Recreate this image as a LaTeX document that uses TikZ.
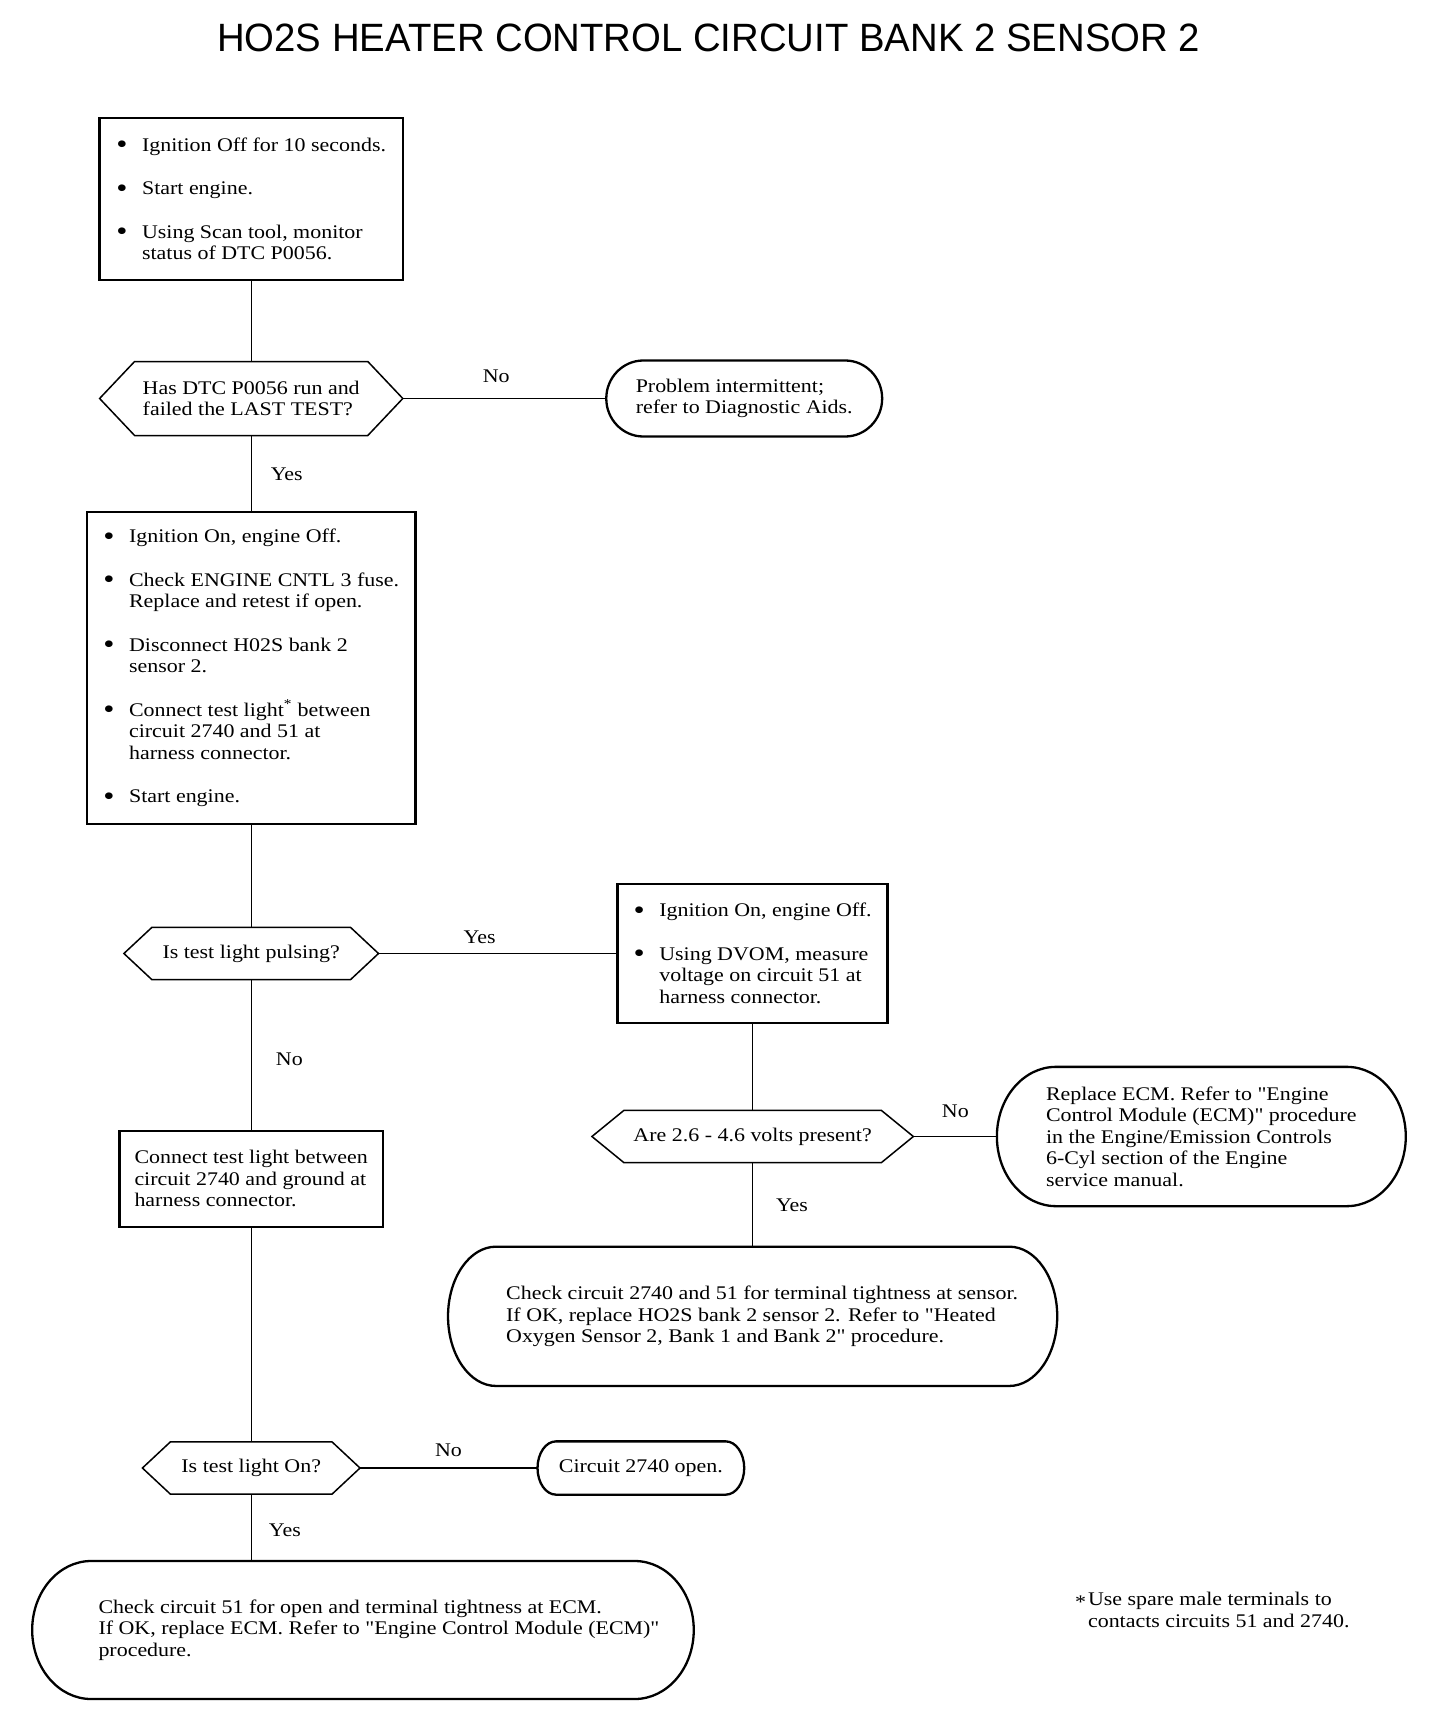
\documentclass[tikz,border=0pt]{standalone}
\usepackage{fontspec}
\newfontfamily\bodyfont{Liberation Serif}[FakeStretch=1.137]
\newfontfamily\titlefont{Liberation Sans}[FakeStretch=0.97]
\usetikzlibrary{calc}
\newcommand\bl[1]{\makebox[25.7pt][l]{\raisebox{-2.5pt}{\scalebox{1.45}{\textbullet}}}#1}
\newcommand\ind{\hspace*{25.7pt}}
\newcommand\hexa[2]{\draw[hexline] (#1.west) -- ([xshift=#2pt]#1.north west) -- ([xshift=-#2pt]#1.north east) -- (#1.east) -- ([xshift=-#2pt]#1.south east) -- ([xshift=#2pt]#1.south west) -- cycle;}
\newcommand\ovalb[2]{%
 \draw[ovalline]
 ([xshift=#2pt]#1.north west) -- ([xshift=-#2pt]#1.north east)
 .. controls ([xshift=-0.448*#2pt]#1.north east) and ($(#1.east)!0.552!(#1.north east)$) .. (#1.east)
 .. controls ($(#1.east)!0.552!(#1.south east)$) and ([xshift=-0.448*#2pt]#1.south east) .. ([xshift=-#2pt]#1.south east)
 -- ([xshift=#2pt]#1.south west)
 .. controls ([xshift=0.448*#2pt]#1.south west) and ($(#1.west)!0.552!(#1.south west)$) .. (#1.west)
 .. controls ($(#1.west)!0.552!(#1.north west)$) and ([xshift=0.448*#2pt]#1.north west) .. ([xshift=#2pt]#1.north west) -- cycle;}
\tikzset{
 every node/.style={font=\bodyfont\fontsize{19.3}{21.5}\selectfont, inner sep=0pt, outer sep=0pt},
 rectbox/.style={draw, line width=2.3pt, align=left},
 hexnode/.style={align=left},
 ovalnode/.style={align=left},
 hexline/.style={line width=1.5pt, line join=miter},
 ovalline/.style={line width=2.3pt},
 conn/.style={line width=1.3pt},
 lbl/.style={}
}
\begin{document}
\begin{tikzpicture}[x=0.989pt,y=1pt]
\fill[white] (0pt,0pt) rectangle (1440pt,-1718pt);
\useasboundingbox (0pt,0pt) rectangle (1440pt,-1718pt);

\node[font=\titlefont\fontsize{39.5}{40}\selectfont] (title) at (716.5,-37.5) {HO2S HEATER CONTROL CIRCUIT BANK 2 SENSOR 2};

% left column
\node[rectbox, minimum width=303.6pt, minimum height=162pt] (b1) at (254,-199) {%
\bl{Ignition Off for 10 seconds.}\\[22pt]
\bl{Start engine.}\\[22pt]
\bl{Using Scan tool, monitor}\\
\ind status of DTC P0056.};

\node[hexnode, minimum width=303.2pt, minimum height=74pt] (h1) at (254,-398.5) {Has DTC P0056 run and\\failed the LAST TEST?};
\hexa{h1}{35}

\node[ovalnode, minimum width=275.9pt, minimum height=76pt] (p1) at (752.5,-398.5) {Problem intermittent;\\refer to Diagnostic Aids.};
\ovalb{p1}{37}

\node[rectbox, minimum width=328.3pt, minimum height=312pt] (b2) at (254,-668) {%
\bl{Ignition On, engine Off.}\\[22pt]
\bl{Check ENGINE CNTL 3 fuse.}\\
\ind Replace and retest if open.\\[22pt]
\bl{Disconnect H02S bank 2}\\
\ind sensor 2.\\[22pt]
\bl{Connect test light\textsuperscript{*} between}\\
\ind circuit 2740 and 51 at\\
\ind harness connector.\\[22pt]
\bl{Start engine.}};

\node[hexnode, minimum width=254.6pt, minimum height=52.3pt] (h2) at (254,-953.5) {Is test light pulsing?};
\hexa{h2}{28}

\node[rectbox, minimum width=270pt, minimum height=139.3pt] (b3) at (761,-953.5) {%
\bl{Ignition On, engine Off.}\\[22pt]
\bl{Using DVOM, measure}\\
\ind voltage on circuit 51 at\\
\ind harness connector.};

\node[hexnode, minimum width=321.4pt, minimum height=52.3pt] (h3) at (761,-1136.5) {Are 2.6 - 4.6 volts present?};
\hexa{h3}{32}

\node[ovalnode, minimum width=408.9pt, minimum height=139.3pt] (r4) at (1214.7,-1136.5) {Replace ECM. Refer to "Engine\\Control Module (ECM)" procedure\\in the Engine/Emission Controls\\6-Cyl section of the Engine\\service manual.};
\ovalb{r4}{59}

\node[ovalnode, minimum width=609.2pt, minimum height=139.3pt] (r5) at (761,-1316.3) {\hspace*{19pt}Check circuit 2740 and 51 for terminal tightness at sensor.\\\hspace*{19pt}If OK, replace HO2S bank 2 sensor 2. Refer to "Heated\\\hspace*{19pt}Oxygen Sensor 2, Bank 1 and Bank 2" procedure.};
\ovalb{r5}{48}

\node[rectbox, minimum width=263.7pt, minimum height=96pt] (b6) at (254,-1178.7) {Connect test light between\\circuit 2740 and ground at\\harness connector.};

\node[hexnode, minimum width=217.6pt, minimum height=52.3pt] (h4) at (254,-1468) {Is test light On?};
\hexa{h4}{28}

\node[ovalnode, minimum width=206.7pt, minimum height=53.3pt] (r7) at (648,-1468) {Circuit 2740 open.};
\ovalb{r7}{18.5}

\node[ovalnode, minimum width=661.6pt, minimum height=138pt] (r8) at (367,-1630) {\hspace*{32pt}Check circuit 51 for open and terminal tightness at ECM.\\\hspace*{32pt}If OK, replace ECM. Refer to "Engine Control Module (ECM)"\\\hspace*{32pt}procedure.};
\ovalb{r8}{59}

\node[anchor=west, align=left] (foot) at (1087,-1610) {\makebox[13pt][l]{\raisebox{-0.35ex}{*}}Use spare male terminals to\\\hspace*{13pt}contacts circuits 51 and 2740.};

% connectors
\draw[conn] (b1.south) -- (h1.north);
\draw[conn] (h1.east) -- (p1.west);
\draw[conn] (h1.south) -- (b2.north);
\draw[conn] (b2.south) -- (h2.north);
\draw[conn] (h2.east) -- (b3.west);
\draw[conn] (h2.south) -- (b6.north);
\draw[conn] (b3.south) -- (h3.north);
\draw[conn] (h3.east) -- (r4.west);
\draw[conn] (h3.south) -- (r5.north);
\draw[conn] (b6.south) -- (h4.north);
\draw[conn] (h4.east) -- (r7.west);
\draw[conn] (h4.south) -- (h4.south |- r8.north);

% labels
\node[lbl] (l1) at (501.7,-376.7) {No};
\node[lbl] (l2) at (290,-474) {Yes};
\node[lbl] (l3) at (485,-937) {Yes};
\node[lbl] (l4) at (292.6,-1059.3) {No};
\node[lbl] (l5) at (966,-1111.7) {No};
\node[lbl] (l6) at (800.8,-1205) {Yes};
\node[lbl] (l7) at (453.4,-1450.7) {No};
\node[lbl] (l8) at (288,-1530) {Yes};
\end{tikzpicture}
\end{document}
